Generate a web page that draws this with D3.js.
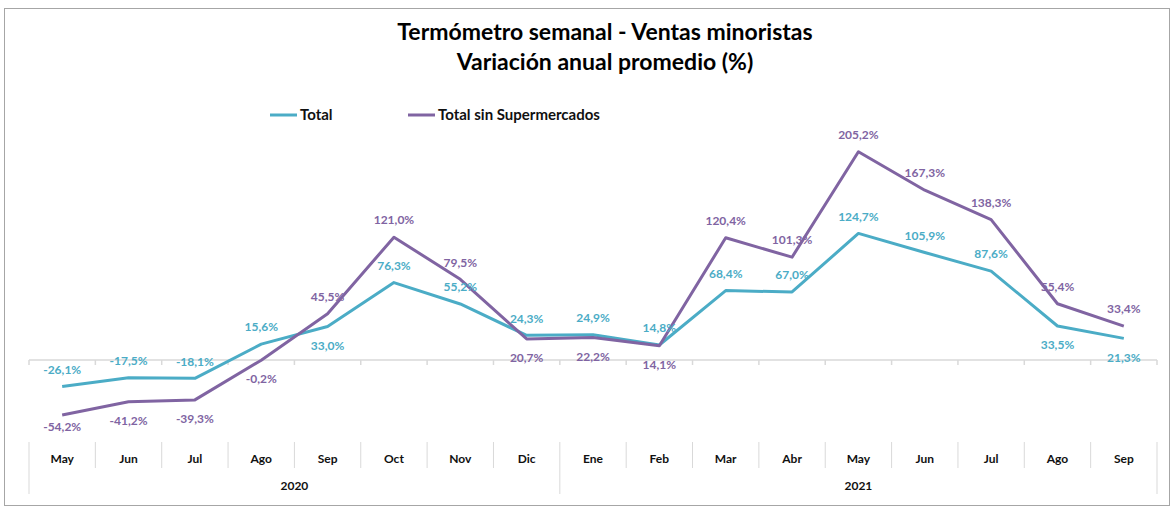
<!doctype html>
<html lang="es">
<head>
  <meta charset="utf-8" />
  <title>Termómetro semanal - Ventas minoristas</title>
  <style>
    html, body { margin: 0; padding: 0; background: #fff; }
    svg { display: block; font-family: Lato, "Open Sans", sans-serif; }
  </style>
</head>
<body>
<svg id="chart" width="1174" height="508"></svg>
<script src="https://cdn.jsdelivr.net/npm/d3@7"></script>
<script>

// Data
var months = ['May', 'Jun', 'Jul', 'Ago', 'Sep', 'Oct', 'Nov', 'Dic',
              'Ene', 'Feb', 'Mar', 'Abr', 'May', 'Jun', 'Jul', 'Ago', 'Sep'];
var years = [{ label: '2020', count: 8 }, { label: '2021', count: 9 }];
var total = [-26.1, -17.5, -18.1, 15.6, 33.0, 76.3, 55.2, 24.3,
             24.9, 14.8, 68.4, 67.0, 124.7, 105.9, 87.6, 33.5, 21.3];
var sinSuper = [-54.2, -41.2, -39.3, -0.2, 45.5, 121.0, 79.5, 20.7,
                22.2, 14.1, 120.4, 101.3, 205.2, 167.3, 138.3, 55.4, 33.4];
// label placement: a = above the point, b = below
var totalPos = ['a', 'a', 'a', 'a', 'b', 'a', 'a', 'a', 'a', 'a', 'a', 'a', 'a', 'a', 'a', 'b', 'b'];
var sinSuperPos = ['b', 'b', 'b', 'b', 'a', 'a', 'a', 'b', 'b', 'b', 'a', 'a', 'a', 'a', 'a', 'a', 'a'];

var series = [
  { name: 'Total', values: total, pos: totalPos, color: '#4BACC6' },
  { name: 'Total sin Supermercados', values: sinSuper, pos: sinSuperPos, color: '#8064A2' }
];

var svg = d3.select('#chart');
var fmt = function (v) {
  return d3.format('.1f')(v).replace('.', ',').replace('\u2212', '-') + '%';
};

// frame
svg.append('rect')
  .attr('x', 4.5).attr('y', 8.5).attr('width', 1165).attr('height', 497)
  .attr('fill', 'none').attr('stroke', '#a6a6a6');

// title
svg.append('text').attr('x', 605).attr('y', 40)
  .attr('text-anchor', 'middle').attr('font-size', 23).attr('font-weight', 'bold')
  .text('Termómetro semanal - Ventas minoristas');
svg.append('text').attr('x', 605).attr('y', 70)
  .attr('text-anchor', 'middle').attr('font-size', 23).attr('font-weight', 'bold')
  .text('Variación anual promedio (%)');

// scales
var x = d3.scaleBand().domain(d3.range(months.length)).range([29, 1157]);
var y = d3.scaleLinear().domain([0, 200]).range([360, 157]);
var cx = function (i) { return x(i) + x.bandwidth() / 2; };

// zero axis line with ticks at band boundaries
svg.append('line')
  .attr('x1', 29).attr('x2', 1157).attr('y1', y(0)).attr('y2', y(0))
  .attr('stroke', '#d9d9d9').attr('stroke-width', 1.5);
svg.selectAll('.tick0')
  .data(d3.range(months.length + 1))
  .enter().append('line')
  .attr('x1', function (i) { return 29 + i * x.step(); })
  .attr('x2', function (i) { return 29 + i * x.step(); })
  .attr('y1', y(0)).attr('y2', y(0) + 5)
  .attr('stroke', '#d9d9d9').attr('stroke-width', 1.5);

// category labels and separators
svg.selectAll('.sep')
  .data(d3.range(months.length + 1))
  .enter().append('line')
  .attr('x1', function (i) { return 29 + i * x.step(); })
  .attr('x2', function (i) { return 29 + i * x.step(); })
  .attr('y1', 442)
  .attr('y2', function (i) { return (i === 0 || i === 8 || i === months.length) ? 494 : 468; })
  .attr('stroke', '#d9d9d9').attr('stroke-width', 1);

svg.selectAll('.month')
  .data(months)
  .enter().append('text')
  .attr('x', function (d, i) { return cx(i); })
  .attr('y', 463)
  .attr('text-anchor', 'middle').attr('font-size', 12).attr('font-weight', 'bold')
  .attr('fill', '#111')
  .text(function (d) { return d; });

var start = 0;
years.forEach(function (yr) {
  var x0 = x(start), x1 = x(start + yr.count - 1) + x.bandwidth();
  svg.append('text')
    .attr('x', (x0 + x1) / 2).attr('y', 490)
    .attr('text-anchor', 'middle').attr('font-size', 12).attr('font-weight', 'bold')
    .attr('fill', '#111')
    .text(yr.label);
  start += yr.count;
});

// lines
var line = d3.line()
  .x(function (d, i) { return cx(i); })
  .y(function (d) { return y(d); });

series.forEach(function (s) {
  svg.append('path')
    .datum(s.values)
    .attr('d', line)
    .attr('fill', 'none')
    .attr('stroke', s.color)
    .attr('stroke-width', 3)
    .attr('stroke-linejoin', 'round');
});

// data labels
series.forEach(function (s) {
  svg.selectAll(null)
    .data(s.values)
    .enter().append('text')
    .attr('x', function (d, i) { return cx(i); })
    .attr('y', function (d, i) { return y(d) + (s.pos[i] === 'a' ? -17 : (i === 0 ? 12 : 19)); })
    .attr('dy', '0.35em')
    .attr('text-anchor', 'middle').attr('font-size', 12).attr('font-weight', 'bold')
    .attr('fill', s.color)
    .text(fmt);
});

// legend
var legendX = [270, 408];
series.forEach(function (s, i) {
  var g = svg.append('g').attr('transform', 'translate(' + legendX[i] + ',115)');
  g.append('line').attr('x1', 0).attr('x2', 27).attr('stroke', s.color).attr('stroke-width', 3);
  g.append('text').attr('x', 30).attr('dy', '0.35em')
    .attr('font-size', 15).attr('font-weight', 'bold').attr('fill', '#111')
    .text(s.name);
});

</script>
</body>
</html>
